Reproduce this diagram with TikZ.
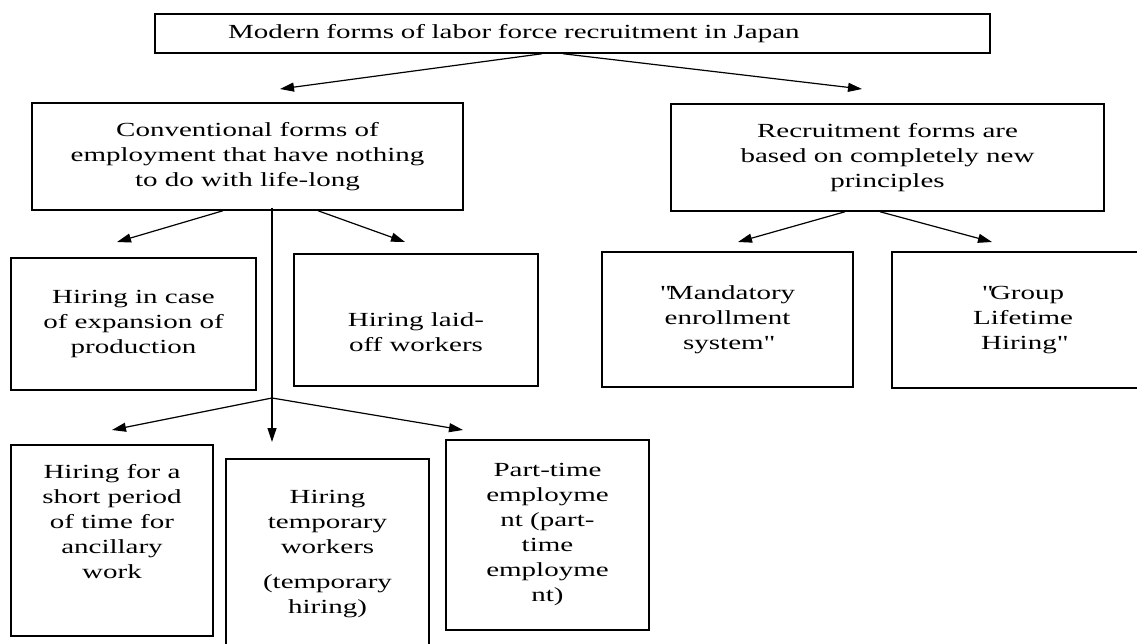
\documentclass[tikz,border=0pt]{standalone}
\usepackage{fontspec}
\setmainfont{Liberation Serif}[FakeStretch=1.45]
\usetikzlibrary{arrows.meta}

\begin{document}
\begin{tikzpicture}[x=1pt, y=-1pt,
		box/.style={draw, line width=1.5pt, align=center, inner sep=0pt, font=\fontsize{20}{25}\selectfont},
		arr/.style={line width=1.2pt, -{Triangle[length=14pt, width=9pt]}} ]
	\useasboundingbox (0,0) rectangle (1137,644);
	% top level
	\node[box, minimum width=835pt, minimum height=39pt, text width=689pt, align=left] (modern) at (572.5,33.5) {Modern forms of labor force recruitment in Japan};
	\node[box, minimum width=431pt, minimum height=107pt] (conv) at (247.5,156.5) {Conventional forms of\\employment that have nothing\\to do with life-long};
	\node[box, minimum width=433pt, minimum height=107pt] (newforms) at (887.5,157.5) {Recruitment forms are\\based on completely new\\principles};
	% second row
	\node[box, minimum width=245pt, minimum height=132pt] (expand) at (133.5,324) {Hiring in case\\of expansion of\\production};
	\node[box, minimum width=244pt, minimum height=132pt] (laidoff) at (416,320) {\mbox{}\\[14pt]Hiring laid-\\off workers};
	\node[box, minimum width=251pt, minimum height=135pt] (mandatory) at (727.5,319.5) {\textquotedbl Mandatory\\enrollment\\system\textquotedbl};
	\node[box, minimum width=262pt, minimum height=136pt] (group) at (1023,320) {\textquotedbl Group\\Lifetime\\Hiring\textquotedbl};
	% third row
	\node[box, minimum width=202pt, minimum height=191pt] (shortterm) at (112,540.5) {Hiring for a\\short period\\of time for\\ancillary\\work\\[14pt]\mbox{}};
	\node[box, minimum width=203pt, minimum height=191pt] (temporary) at (327.5,554.5) {Hiring\\temporary\\workers\\[10pt](temporary\\hiring)};
	\node[box, minimum width=203pt, minimum height=190pt] (parttime) at (547.5,535) {Part-time\\employme\\nt (part-\\time\\employme\\nt)};
	% arrow ends
	\coordinate (convtip) at (280,89);
	\coordinate (newtip) at (862,89);
	\coordinate (expandtip) at (117,242);
	\coordinate (laidofftip) at (405,242);
	\coordinate (mandatorytip) at (738,242);
	\coordinate (grouptip) at (992,242);
	\coordinate (fork) at (272,398);
	\coordinate (shorttip) at (112,430);
	\coordinate (temptip) at (272,442);
	\coordinate (parttip) at (463,430);
	\draw[arr] ([xshift=-30.5pt]modern.south) -- (convtip);
	\draw[arr] ([xshift=-9.5pt]modern.south) -- (newtip);
	\draw[arr] ([xshift=-24.5pt]conv.south) -- (expandtip);
	\draw[arr] ([xshift=70.5pt]conv.south) -- (laidofftip);
	\draw[arr] ([xshift=-42.5pt]newforms.south) -- (mandatorytip);
	\draw[arr] ([xshift=-7.5pt]newforms.south) -- (grouptip);
	\draw[arr] ([xshift=24.5pt, yshift=3pt]conv.south) -- (temptip);
	\draw[arr] (fork) -- (shorttip);
	\draw[arr] (fork) -- (parttip);
\end{tikzpicture}
\end{document}
